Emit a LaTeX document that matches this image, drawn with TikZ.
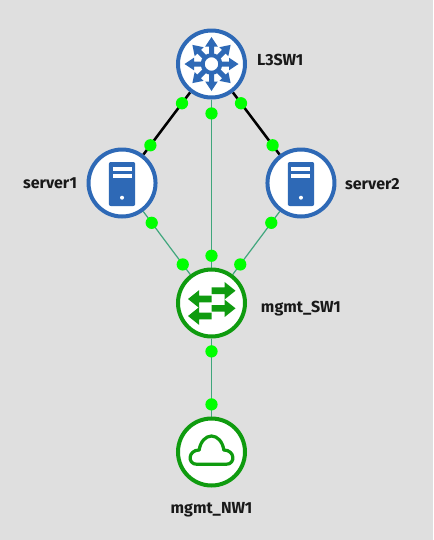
\documentclass[tikz,border=0pt]{standalone}
\usepackage{fontspec}
\setmainfont{Fira Sans}
\usetikzlibrary{positioning, backgrounds}

\definecolor{bgGray}{HTML}{DFDFDF}
\definecolor{l3Blue}{HTML}{2E69B6}
\definecolor{mgmtGreen}{HTML}{0F9B0F}
\definecolor{dotGreen}{HTML}{00FF00}
\definecolor{mgmtLink}{HTML}{3FA67C}

\tikzset{
    devnode/.style = {circle, draw, fill=white, line width=3pt, inner sep=0pt,
                      minimum size=50.25pt},
    bluenode/.style  = {devnode, draw=l3Blue},
    greennode/.style = {devnode, draw=mgmtGreen},
    devlabel/.style  = {font=\bfseries\fontsize{12}{14}\selectfont, text=black!90},
    dot/.style       = {circle, fill=dotGreen, inner sep=0pt, minimum size=9.2pt},
    datalink/.style  = {draw=black, line width=1.9pt},
    mgmtlink/.style  = {draw=mgmtLink, line width=0.9pt},
    l3icon/.pic = {
        \foreach \ang in {0,45,...,315} {
            \fill[l3Blue, rotate=\ang] (9,-2.5) -- (17.5,-2.5) -- (17.5,-6.3) -- (27,0)
                -- (17.5,6.3) -- (17.5,2.5) -- (9,2.5) -- cycle;
        }
        \draw[l3Blue, line width=3pt, fill=white] (0,0) circle (8.8);
    },
    servericon/.pic = {
        \fill[l3Blue, rounded corners=1.5pt] (-13.2,-23) rectangle (13.2,21);
        \fill[white] (-9.5,12.5) rectangle (9.5,16.5);
        \fill[white] (-9.5,5) rectangle (9.5,9.2);
        \fill[white] (0,-14.7) circle (2);
    },
    rightarrow/.pic = {
        \fill[mgmtGreen] (0,-3.3) -- (13,-3.3) -- (13,-8.8) -- (24,0)
            -- (13,8.8) -- (13,3.3) -- (0,3.3) -- cycle;
    },
    leftarrow/.pic = {
        \fill[mgmtGreen] (0,-3.3) -- (-12.5,-3.3) -- (-12.5,-8.8) -- (-23.5,0)
            -- (-12.5,8.8) -- (-12.5,3.3) -- (0,3.3) -- cycle;
    },
    cloudicon/.pic = {
        \draw[mgmtGreen, line width=2.4pt, line join=round]
            (-14.5,-12.3) -- (14.5,-12.3)
            .. controls (24.5,-12.3) and (23.5,2) .. (12.3,2)
            .. controls (11.3,10) and (6,16) .. (0,16)
            .. controls (-6,16) and (-11.3,10) .. (-12.3,2)
            .. controls (-23.5,2) and (-24.5,-12.3) .. (-14.5,-12.3) -- cycle;
    },
}

\begin{document}
\begin{tikzpicture}[x=0.75pt, y=0.75pt, on grid]

%% devices
\node[bluenode]  (l3sw)    at (211.5,-64) {};
\node[bluenode,  below left=89.25pt and 67.1pt of l3sw]   (server1) {};
\node[bluenode,  below right=89.25pt and 67.1pt of l3sw]  (server2) {};
\node[greennode, below=179.25pt of l3sw]  (mgmtsw) {};
\node[greennode, below=111.75pt of mgmtsw] (mgmtnw) {};

%% icons
\pic at (l3sw)    {l3icon};
\pic at (server1) {servericon};
\pic at (server2) {servericon};
\pic at ([shift={(0,12.3)}]mgmtsw)  {rightarrow};
\pic at ([shift={(0,-5.3)}]mgmtsw)  {rightarrow};
\pic at ([shift={(0,4)}]mgmtsw)     {leftarrow};
\pic at ([shift={(0,-13)}]mgmtsw)   {leftarrow};
\pic at (mgmtnw)  {cloudicon};

%% labels
\node[devlabel, right=51.6pt of l3sw, yshift=3pt]      (l3swlabel)  {L3SW1};
\node[devlabel, left=54pt of server1]                  (s1label)    {server1};
\node[devlabel, right=53.6pt of server2, yshift=-1pt]  (s2label)    {server2};
\node[devlabel, right=67pt of mgmtsw, yshift=-4.5pt]   (swlabel)    {mgmt\_SW1};
\node[devlabel, below=43.5pt of mgmtnw]                (nwlabel)    {mgmt\_NW1};

%% links and their end dots
\begin{scope}[on background layer]
\path[fill=bgGray, use as bounding box] (0,0) rectangle (433,-540);
\path[datalink] (l3sw) -- (server1)
    node[dot, pos=.175] (d1a) {} node[dot, pos=.85] (d1b) {};
\path[datalink] (l3sw) -- (server2)
    node[dot, pos=.175] (d2a) {} node[dot, pos=.85] (d2b) {};
\path[mgmtlink] (l3sw) -- (mgmtsw)
    node[dot, pos=.083] (d3a) {} node[dot, pos=.93] (d3b) {};
\path[mgmtlink] (server1) -- (mgmtsw)
    node[dot, pos=.18] (d4a) {} node[dot, pos=.84] (d4b) {};
\path[mgmtlink] (server2) -- (mgmtsw)
    node[dot, pos=.18] (d5a) {} node[dot, pos=.84] (d5b) {};
\path[mgmtlink] (mgmtsw) -- (mgmtnw)
    node[dot, pos=.165] (d6a) {} node[dot, pos=.845] (d6b) {};
\end{scope}

\end{tikzpicture}
\end{document}
